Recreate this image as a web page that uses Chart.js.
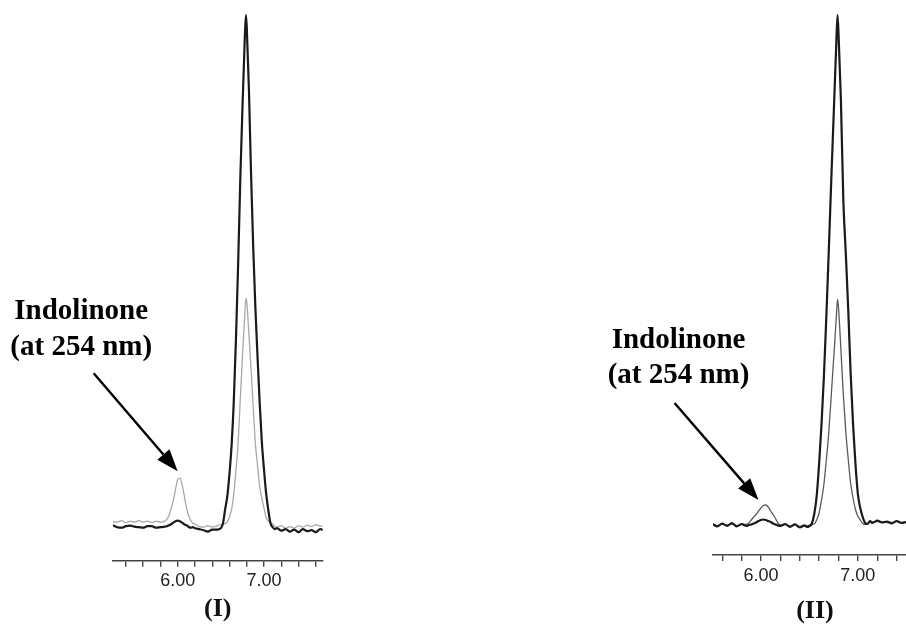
<!DOCTYPE html>
<html>
<head>
<meta charset="utf-8">
<script src="https://cdn.jsdelivr.net/npm/chart.js@4.4.1/dist/chart.umd.min.js"></script>
<style>
  html, body { margin: 0; padding: 0; background: #fff; overflow: hidden; }
  #page { position: relative; width: 906px; height: 624px; overflow: hidden; background: #fff; }
  canvas { position: absolute; top: 0; }
</style>
</head>
<body>
<div id="page">
  <canvas id="chartI" width="330" height="625" style="left:0px"></canvas>
  <canvas id="chartII" width="340" height="627" style="left:580px"></canvas>
</div>
<script>
// panel (I): retention time (min) and response, thick trace + thin grey trace
let timesI = [5.25,5.30,5.35,5.40,5.45,5.50,5.55,5.60,5.65,5.70,5.75,5.80,
  5.85,5.875,5.90,5.925,5.95,5.975,6.00,6.025,6.05,6.075,6.10,6.125,6.15,6.175,6.20,
  6.25,6.30,6.35,6.40,
  6.45,6.475,6.50,6.525,6.55,6.575,6.60,6.625,6.65,6.675,6.70,6.725,6.75,6.775,6.79,6.80,
  6.825,6.85,6.875,6.90,6.925,6.95,6.975,7.00,7.025,7.05,7.075,7.10,7.125,
  7.15,7.20,7.25,7.30,7.35,7.40,7.45,7.50,7.55,7.60,7.65,7.70];
let blackI = [-0.2,-0.6,-0.7,-0.4,-0.3,-0.5,-0.6,-0.7,-0.4,-0.4,-0.7,-0.6,
  -0.5,-0.4,-0.2,0,0.3,0.6,0.7,0.6,0.3,0,-0.2,-0.5,-0.7,-0.6,-0.8,
  -1.0,-1.2,-1.5,-1.1,
  -1.1,-1.0,-0.8,0.2,3.0,5.6,10.1,15.9,24.6,37,51.8,68.8,83,96,101.8,99.5,
  87,70,55.3,43.3,33.5,24.2,16.4,10.9,6.1,2.8,0.2,-0.6,-1.0,
  -0.8,-1.3,-1.0,-1.5,-1.1,-1.6,-1.0,-1.4,-1.2,-1.6,-1.0,-1.2];
let grayI = [0.5,0.4,0.7,0.3,0.6,0.4,0.7,0.4,0.6,0.3,0.6,0.4,
  0.6,1.0,1.8,3.2,4.8,7.0,8.9,9.2,8.0,5.8,3.4,1.8,0.8,0.2,0,
  -0.5,-0.6,-0.3,-0.6,
  -0.4,-0.2,-0.1,0,0.1,0.5,1.5,3,6,10.8,16.2,25,33.5,41,45.2,44.5,
  38,31,23.4,16.1,11.8,7.5,5.2,3.2,1.3,0.6,0.3,0,-0.4,
  -0.6,-0.3,-0.8,-0.5,-0.8,-0.3,-0.6,-0.2,-0.5,-0.1,-0.4,-0.2];

// panel (II)
let timesII = [5.50,5.55,5.60,5.65,5.70,5.75,5.80,
  5.85,5.875,5.90,5.925,5.95,5.975,6.00,6.025,6.05,6.075,6.10,6.125,6.15,6.175,6.20,
  6.25,6.30,6.35,6.40,
  6.45,6.475,6.50,6.525,6.55,6.575,6.60,6.625,6.65,6.675,6.70,6.725,6.75,6.775,6.79,6.80,
  6.825,6.85,6.875,6.90,6.925,6.95,6.975,7.00,7.025,7.05,7.075,7.10,7.125,
  7.15,7.20,7.25,7.30,7.35,7.40,7.45,7.50];
let blackII = [0.2,-0.3,0.3,-0.2,0.4,-0.3,0.2,
  -0.2,0,0.1,0.3,0.5,0.8,1.0,1.1,1.0,0.8,0.6,0.3,0.1,-0.1,-0.2,
  0.2,-0.4,0.1,-0.5,
  -0.1,-0.4,-0.2,0.3,2.2,5.8,12.2,20.2,29.9,41.8,54.9,68.7,81.8,95,102,98.5,
  85,65,54.5,43.4,30.6,20.3,12.3,6.2,3.4,1.6,0.4,0.2,0.8,
  0.4,0.9,0.5,0.7,0.3,0.8,0.4,0.6];
let grayII = [0,-0.1,0.2,0,0.2,-0.1,0.1,
  0.1,0.4,1.0,1.6,2.1,2.8,3.4,3.9,4.0,3.6,2.8,2.1,1.3,0.4,0,
  0.1,-0.2,0.2,-0.3,
  0,-0.2,0,0.1,0.2,1,2.4,5,8.2,13.1,18.5,25.8,33.2,40.7,45.1,43.5,
  35.1,26.1,18.8,13.3,8.4,5.4,3.1,1.8,1.0,0.3,0.1,0.3,0.6,
  0.6,0.7,0.6,0.5,0.5,0.7,0.5,0.6];

let labeledTicks = [6, 7];
let calloutText = ['Indolinone', '(at 254 nm)'];

// label + arrow pointing at the small peak
const callout = {
  id: 'callout',
  afterDraw(chart, args, opts) {
    const ctx = chart.ctx;
    const tipX = chart.scales.x.getPixelForValue(opts.at[0]);
    const tipY = chart.scales.y.getPixelForValue(opts.at[1]) - opts.gap;
    const tailX = tipX + opts.tail[0], tailY = tipY + opts.tail[1];
    const ang = Math.atan2(tipY - tailY, tipX - tailX);
    const headLen = 22, headW = 8;
    const bx = tipX - headLen * Math.cos(ang), by = tipY - headLen * Math.sin(ang);
    ctx.save();
    ctx.strokeStyle = '#000';
    ctx.fillStyle = '#000';
    ctx.lineWidth = 2.4;
    ctx.beginPath();
    ctx.moveTo(tailX, tailY);
    ctx.lineTo(bx, by);
    ctx.stroke();
    ctx.beginPath();
    ctx.moveTo(tipX, tipY);
    ctx.lineTo(bx + headW * Math.sin(ang), by - headW * Math.cos(ang));
    ctx.lineTo(bx - headW * Math.sin(ang), by + headW * Math.cos(ang));
    ctx.closePath();
    ctx.fill();
    ctx.font = 'bold 29px "Liberation Serif"';
    ctx.textAlign = 'center';
    ctx.textBaseline = 'alphabetic';
    calloutText.forEach((line, i) => {
      ctx.fillText(line, tipX + opts.textDx, tipY + opts.textDy[i]);
    });
    ctx.restore();
  }
};

function makeChart(id, times, black, gray, grayColor, xRange, yRange, padLeft, padRight, axisH, title, co) {
  return new Chart(document.getElementById(id), {
    type: 'line',
    data: {
      datasets: [{
        data: times.map((t, i) => ({x: t, y: black[i]})),
        borderColor: '#1a1a1a',
        borderWidth: 2.2
      }, {
        data: times.map((t, i) => ({x: t, y: gray[i]})),
        borderColor: grayColor,
        borderWidth: 1.3
      }]
    },
    options: {
      responsive: false,
      devicePixelRatio: 1,
      animation: false,
      layout: { padding: { left: padLeft, right: padRight, top: 10, bottom: 0 } },
      elements: {
        point: { radius: 0 },
        line: { cubicInterpolationMode: 'monotone', fill: false, borderJoinStyle: 'round' }
      },
      plugins: { legend: { display: false }, tooltip: { enabled: false }, callout: co },
      scales: {
        x: {
          type: 'linear',
          min: xRange[0],
          max: xRange[1],
          afterFit: scale => { scale.height = axisH; },
          grid: { drawOnChartArea: false, drawTicks: true, tickLength: 6, color: '#444', lineWidth: 1.4 },
          border: { display: true, color: '#444', width: 1.5 },
          ticks: {
            stepSize: 0.2,
            includeBounds: false,
            autoSkip: false,
            maxRotation: 0,
            padding: 4,
            color: '#222',
            font: { family: 'Liberation Sans', size: 18 },
            callback: v => labeledTicks.some(t => Math.abs(t - v) < 1e-6) ? v.toFixed(2) : ''
          },
          title: {
            display: true,
            text: title,
            color: '#111',
            font: { family: 'Liberation Serif', size: 26, weight: 'bold' },
            padding: { top: 0, bottom: 0 }
          }
        },
        y: { display: false, min: yRange[0], max: yRange[1] }
      }
    },
    plugins: [callout]
  });
}

makeChart('chartI', timesI, blackI, grayI, '#a8a8a8', [5.247, 7.68], [-7.3, 102.8], 112.7, 7.3, 64.3, '(I)',
  { at: [6.0, 9.2], gap: 7, tail: [-84, -98], textDx: -96.5, textDy: [-152.5, -116] });
makeChart('chartII', timesII, blackII, grayII, '#5a5a5a', [5.505, 7.61], [-6, 103], 133, 0, 72, '(II)',
  { at: [5.975, 4.0], gap: 5, tail: [-84, -97], textDx: -80, textDy: [-151.7, -117.3] });
</script>
</body>
</html>
